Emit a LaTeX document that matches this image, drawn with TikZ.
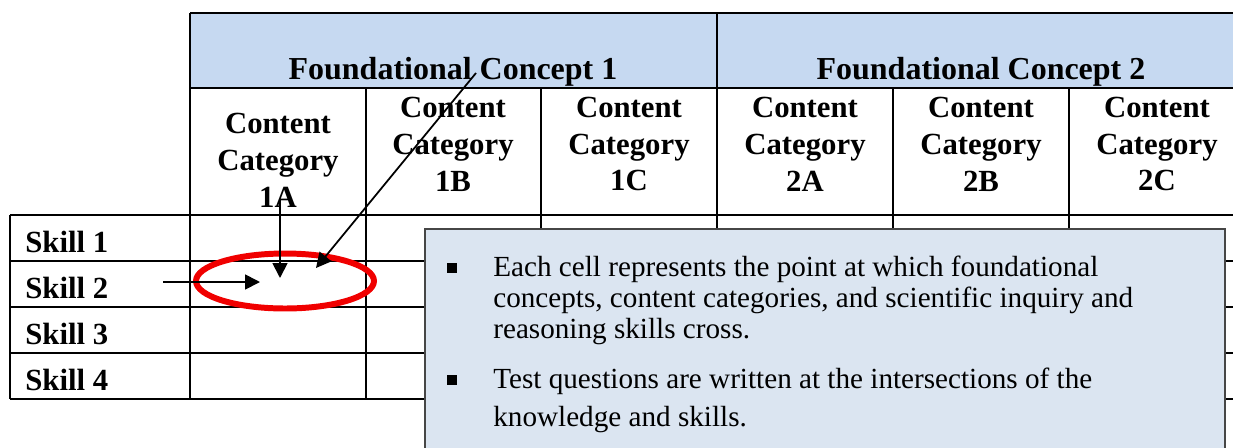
\documentclass[tikz,border=0pt]{standalone}
\usepackage{fontspec}
\setmainfont{Liberation Serif}
\usetikzlibrary{arrows.meta,shapes.geometric}
\definecolor{headblue}{RGB}{198,217,241}
\definecolor{noteblue}{RGB}{219,229,241}
\definecolor{noteedge}{RGB}{70,70,70}
\definecolor{ringred}{RGB}{240,0,0}
\tikzset{
  headtext/.style={font=\fontsize{17.5}{21}\selectfont\bfseries, align=center, inner sep=0pt},
  concepttext/.style={font=\fontsize{18.2}{21}\selectfont\bfseries, inner sep=0pt},
  skilltext/.style={font=\fontsize{17.5}{21}\selectfont\bfseries, anchor=west, inner sep=0pt},
  notetext/.style={font=\fontsize{16.6}{17.6}\selectfont, anchor=north west, align=left, inner sep=0pt},
  bulletmark/.style={fill=black, minimum size=5.5pt, inner sep=0pt},
  pointer/.style={-{Triangle[length=3mm,width=3mm]}, line width=1pt},
  gridline/.style={line width=1pt},
}
\begin{document}
\begin{tikzpicture}[x=0.02cm, y=-0.02cm]
  \useasboundingbox (0,0) rectangle (1233,447);
  \clip (0,0) rectangle (1233,447);
  % header band
  \fill[headblue] (190,13) rectangle (1250,88);
  \draw[gridline] (190,13) -- (1250,13);
  \draw[gridline] (190,88) -- (1250,88);
  \draw[gridline] (717,13) -- (717,88);
  % table body
  \draw[gridline] (190,13) -- (190,399);
  \draw[gridline] (10,215) -- (10,399);
  \foreach \y in {215,261,307,353,399}
    \draw[gridline] (10,\y) -- (1250,\y);
  \foreach \x in {366,541,717,893,1069}
    \draw[gridline] (\x,88) -- (\x,399);

  % headings
  \node[concepttext] (fc1) at (453,72) {Foundational Concept 1};
  \node[concepttext] (fc2) at (981,72) {Foundational Concept 2};
  \node[headtext] (c1a) at (278,160) {Content\\Category\\1A};
  \node[headtext] (c1b) at (453,144) {Content\\Category\\1B};
  \node[headtext] (c1c) at (629,144) {Content\\Category\\1C};
  \node[headtext] (c2a) at (805,144) {Content\\Category\\2A};
  \node[headtext] (c2b) at (981,144) {Content\\Category\\2B};
  \node[headtext] (c2c) at (1157,144) {Content\\Category\\2C};

  % skills
  \node[skilltext] (s1) at (25,242) {Skill 1};
  \node[skilltext] (s2) at (25,288) {Skill 2};
  \node[skilltext] (s3) at (25,334) {Skill 3};
  \node[skilltext] (s4) at (25,380) {Skill 4};

  % note box
  \draw[fill=noteblue, draw=noteedge, line width=1.2pt] (425,229) rectangle (1225,460);
  \node[bulletmark] (b1) at (452,268) {};
  \node[bulletmark] (b2) at (452,380) {};
  \node[notetext] (n1) at (493,256) {Each cell represents the point at which foundational\\
    concepts, content categories, and scientific inquiry and\\
    reasoning skills cross.};
  \node[notetext] (n2) at (493,368) {Test questions are written at the intersections of the\\[4pt]
    knowledge and skills.};

  % red ring and pointers
  \node[draw=ringred, line width=3.4pt, ellipse, minimum width=3.56cm, minimum height=1.1cm, inner sep=0pt] (ring) at (285,281) {};
  \coordinate (from2) at (163,282);
  \coordinate (tip2) at (260,282);
  \coordinate (from1a) at (280,200);
  \coordinate (tip1a) at (280,278);
  \coordinate (fromfc) at (476,73);
  \coordinate (tipfc) at (316,268);
  \draw[pointer] (from2) -- (tip2);
  \draw[pointer] (from1a) -- (tip1a);
  \draw[pointer] (fromfc) -- (tipfc);
\end{tikzpicture}
\end{document}
